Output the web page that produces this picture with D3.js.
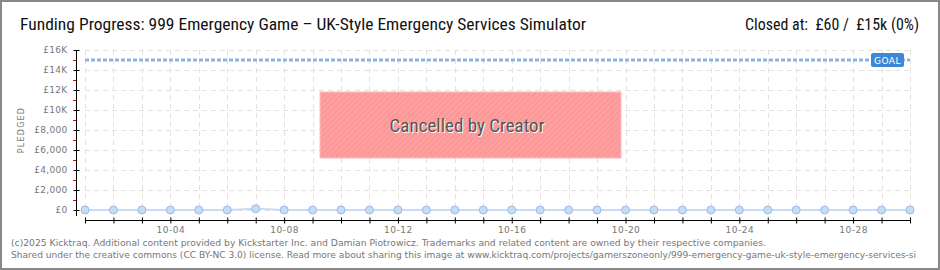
<!DOCTYPE html>
<html>
<head>
<meta charset="utf-8">
<script src="https://cdn.jsdelivr.net/npm/d3@7"></script>
<style>
  body { margin: 0; background: #fff; }
  svg { display: block; }
</style>
</head>
<body>
<div id="chart"></div>
<script>
// values
const days = ["10-01","10-02","10-03","10-04","10-05","10-06","10-07","10-08","10-09","10-10",
  "10-11","10-12","10-13","10-14","10-15","10-16","10-17","10-18","10-19","10-20",
  "10-21","10-22","10-23","10-24","10-25","10-26","10-27","10-28","10-29","10-30"];
const pledged = [0,0,0,0,0,0,130,0,0,0, 0,0,0,0,0,0,0,0,0,0, 0,0,0,0,0,0,0,0,0,0];
const dayLabels = ["10-04","10-08","10-12","10-16","10-20","10-24","10-28"];
const yTicks = [0,2000,4000,6000,8000,10000,12000,14000,16000];
const goal = 15000;
const title = "Funding Progress: 999 Emergency Game \u2013 UK-Style Emergency Services Simulator";
const closed = "Closed at:  \u00a360 /  \u00a315k (0%)";
const footer1 = "(c)2025 Kicktraq. Additional content provided by Kickstarter Inc. and Damian Piotrowicz. Trademarks and related content are owned by their respective companies.";
const footer2 = "Shared under the creative commons (CC BY-NC 3.0) license. Read more about sharing this image at www.kicktraq.com/projects/gamerszoneonly/999-emergency-game-uk-style-emergency-services-si";

const W = 940, H = 270;
const plotL = 85, plotR = 910, plotT = 50, plotB = 210;
const axisX = 76, axisY = 220;
const titleFont = "'Liberation Sans Narrow', 'Roboto Condensed', 'Noto Sans', sans-serif";

const svg = d3.select("#chart").append("svg")
    .attr("width", W)
    .attr("height", H);

const defs = svg.append("defs");
const hatch = defs.append("pattern")
    .attr("id", "hatch")
    .attr("width", 4).attr("height", 4)
    .attr("patternUnits", "userSpaceOnUse")
    .attr("patternTransform", "rotate(45)");
hatch.append("rect").attr("width", 4).attr("height", 4).attr("fill", "#ff9e9e");
hatch.append("line").attr("x1", 0).attr("y1", 0).attr("x2", 0).attr("y2", 4)
    .attr("stroke", "#f59090").attr("stroke-width", 1.5);

var x = d3.scalePoint()
    .domain(days)
    .range([plotL, plotR]);

var y = d3.scaleLinear()
    .domain([0, 16000])
    .range([plotB, plotT]);

// grid
svg.append("g").selectAll("line")
    .data(yTicks)
    .join("line")
    .attr("x1", plotL).attr("x2", plotR)
    .attr("y1", d => y(d) + 0.5).attr("y2", d => y(d) + 0.5)
    .attr("stroke", "#e2e2e2")
    .attr("stroke-dasharray", "5,4");

svg.append("g").selectAll("line")
    .data(days)
    .join("line")
    .attr("x1", d => Math.round(x(d)) + 0.5).attr("x2", d => Math.round(x(d)) + 0.5)
    .attr("y1", plotT).attr("y2", plotB)
    .attr("stroke", "#e2e2e2")
    .attr("stroke-dasharray", "5,4");

// y axis
const yAxis = svg.append("g")
    .attr("transform", "translate(" + (axisX + 0.5) + ",0)")
    .call(d3.axisLeft(y).tickValues(yTicks).tickSize(3)
        .tickFormat(d => d >= 10000 ? "\u00a3" + d / 1000 + "K" : "\u00a3" + d3.format(",")(d)));
yAxis.select(".domain").attr("stroke", "#000").attr("d", "M0," + plotT + "V" + (plotB + 6));
yAxis.selectAll(".tick line").attr("x1", -3).attr("x2", 3).attr("stroke", "#000");
yAxis.selectAll(".tick text")
    .attr("x", -9)
    .attr("fill", "#777")
    .style("font-family", "'DejaVu Sans', sans-serif")
    .style("font-size", "9px")
    .style("letter-spacing", "0.3px");

// red minor ticks
svg.append("g").selectAll("line")
    .data(yTicks.slice(0, -1).map(d => d + 1000))
    .join("line")
    .attr("x1", axisX - 3).attr("x2", axisX)
    .attr("y1", d => y(d) + 0.5).attr("y2", d => y(d) + 0.5)
    .attr("stroke", "#e00000");

svg.append("text")
    .attr("transform", "translate(24," + ((plotT + plotB) / 2) + ") rotate(-90)")
    .attr("text-anchor", "middle")
    .attr("fill", "#777")
    .style("font-family", "'DejaVu Sans', sans-serif")
    .style("font-size", "8px")
    .style("letter-spacing", "1.2px")
    .text("PLEDGED");

// x axis
const xAxis = svg.append("g")
    .attr("transform", "translate(0," + (axisY + 0.5) + ")")
    .call(d3.axisBottom(x).tickSize(3).tickFormat(d => dayLabels.includes(d) ? d : ""));
xAxis.select(".domain").attr("stroke", "#000").attr("d", "M" + plotL + ",0H" + plotR);
xAxis.selectAll(".tick line").attr("y1", -3).attr("y2", 3).attr("stroke", "#000");
xAxis.selectAll(".tick text")
    .attr("y", 6)
    .attr("fill", "#777")
    .style("font-family", "'DejaVu Sans', sans-serif")
    .style("font-size", "9px")
    .style("letter-spacing", "0.5px");

// goal line
svg.append("line")
    .attr("x1", plotL).attr("x2", plotR)
    .attr("y1", y(goal)).attr("y2", y(goal))
    .attr("stroke", "#8fb3e0")
    .attr("stroke-width", 3)
    .attr("stroke-dasharray", "4,2");

svg.append("rect")
    .attr("x", 871).attr("y", y(goal) - 7)
    .attr("width", 33).attr("height", 14)
    .attr("rx", 2)
    .attr("fill", "#3d87d6");
svg.append("text")
    .attr("x", 887.5).attr("y", y(goal) + 3.5)
    .attr("text-anchor", "middle")
    .attr("fill", "#fff")
    .style("font-family", "'DejaVu Sans', sans-serif")
    .style("font-size", "9px")
    .style("letter-spacing", "0.5px")
    .text("GOAL");

// cancelled box
svg.append("rect")
    .attr("x", 320).attr("y", 92)
    .attr("width", 301).attr("height", 66)
    .attr("fill", "url(#hatch)")
    .attr("stroke", "#ffbcbc")
    .attr("stroke-width", 1);
svg.append("text")
    .attr("x", 468).attr("y", 133)
    .attr("text-anchor", "middle")
    .attr("fill", "#fff")
    .style("font-family", titleFont)
    .style("font-size", "19px")
    .text("Cancelled by Creator")
    .clone(true)
    .attr("x", 467).attr("y", 132)
    .attr("fill", "#555");

// pledge line + points
svg.append("path")
    .datum(days)
    .attr("fill", "none")
    .attr("stroke", "#c6ddf5")
    .attr("stroke-width", 2)
    .attr("d", d3.line().x(d => x(d)).y((d, i) => y(pledged[i])));

svg.append("g").selectAll("circle")
    .data(days)
    .join("circle")
    .attr("cx", d => x(d))
    .attr("cy", (d, i) => y(pledged[i]))
    .attr("r", 4)
    .attr("fill", "#c6ddf5")
    .attr("stroke", "#9bbce2")
    .attr("stroke-width", 1);

// titles
svg.append("text")
    .attr("x", 20).attr("y", 30)
    .attr("fill", "#111")
    .style("font-family", titleFont)
    .style("font-size", "17px")
    .attr("textLength", 566)
    .attr("lengthAdjust", "spacingAndGlyphs")
    .text(title);

svg.append("text")
    .attr("x", 919).attr("y", 30)
    .attr("text-anchor", "end")
    .attr("fill", "#111")
    .style("font-family", titleFont)
    .style("font-size", "17px")
    .style("white-space", "pre")
    .attr("textLength", 174)
    .attr("lengthAdjust", "spacingAndGlyphs")
    .text(closed);

// footer
svg.append("text")
    .attr("x", 11).attr("y", 246)
    .attr("fill", "#777")
    .style("font-family", "'DejaVu Sans', sans-serif")
    .style("font-size", "9.5px")
    .attr("textLength", 755)
    .attr("lengthAdjust", "spacingAndGlyphs")
    .text(footer1);
svg.append("text")
    .attr("x", 11).attr("y", 258)
    .attr("fill", "#777")
    .style("font-family", "'DejaVu Sans', sans-serif")
    .style("font-size", "9px")
    .attr("textLength", 905)
    .attr("lengthAdjust", "spacingAndGlyphs")
    .text(footer2);

// frame
svg.append("rect")
    .attr("x", 1).attr("y", 1)
    .attr("width", W - 2).attr("height", H - 2)
    .attr("fill", "none")
    .attr("stroke", "#888")
    .attr("stroke-width", 2);
</script>
</body>
</html>
